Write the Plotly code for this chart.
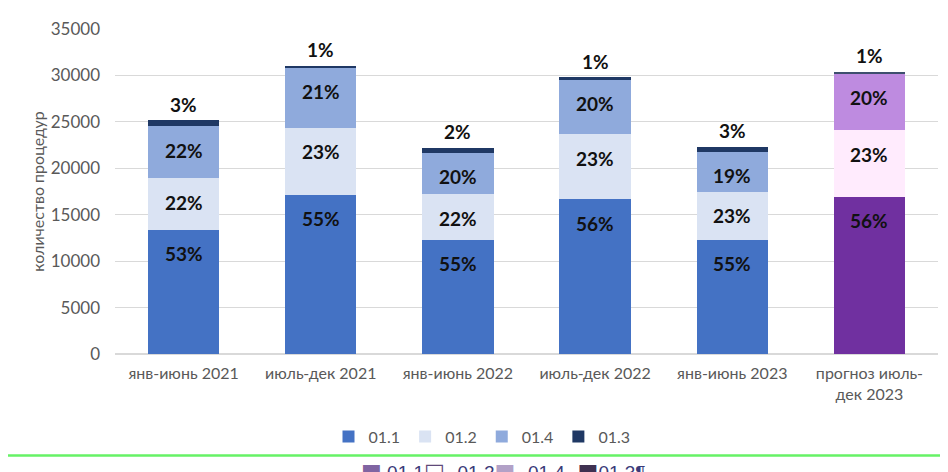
import plotly.graph_objects as go

categories = ["янв-июнь 2021", "июль-дек 2021", "янв-июнь 2022",
              "июль-дек 2022", "янв-июнь 2023", "прогноз июль-<br>дек 2023"]

s011 = [13360, 17140, 12280, 16640, 12320, 16920]
s012 = [5570, 7210, 4930, 7000, 5140, 7150]
s014 = [5600, 6500, 4460, 5970, 4310, 6100]
s013 = [640, 190, 530, 190, 540, 250]

lbl011 = ["53%", "55%", "55%", "56%", "55%", "56%"]
lbl012 = ["22%", "23%", "22%", "23%", "23%", "23%"]
lbl014 = ["22%", "21%", "20%", "20%", "19%", "20%"]
lbl013 = ["3%", "1%", "2%", "1%", "3%", "1%"]

series_names = ["01.1", "01.2", "01.4", "01.3"]
blue_palette = ["#4472C4", "#DAE3F3", "#8FAADC", "#1F3864"]
purple_palette = ["#7030A0", "#FFEBFD", "#BE8BE0", "#3E4F6E"]
forecast_flags = [False, False, False, False, False, True]

FONT = "Lato, Noto Sans, sans-serif"
GRAY = "#595959"

fig = go.Figure()
series = [s011, s012, s014, s013]
for i, (name, vals) in enumerate(zip(series_names, series)):
    colors = [purple_palette[i] if f else blue_palette[i] for f in forecast_flags]
    fig.add_trace(go.Bar(
        x=categories, y=vals, name=name,
        marker=dict(color=colors, line=dict(width=0)),
        hoverinfo="skip",
    ))

# inside labels (near top of each segment)
cum = [0] * len(categories)
for vals, labels in zip([s011, s012, s014], [lbl011, lbl012, lbl014]):
    for j, (v, t) in enumerate(zip(vals, labels)):
        cum[j] += v
        fig.add_annotation(x=categories[j], y=cum[j], text="<b>%s</b>" % t,
                           showarrow=False, yanchor="middle", yshift=-24,
                           font=dict(family=FONT, size=19, color="#111111"))
# top labels above bars
for j, (v, t) in enumerate(zip(s013, lbl013)):
    top = cum[j] + v
    fig.add_annotation(x=categories[j], y=top, text="<b>%s</b>" % t,
                       showarrow=False, yanchor="middle", yshift=16,
                       font=dict(family=FONT, size=19, color="#111111"))

# plot area in figure px: left 107, right 930, top 19, bottom 346
PL, PR, PT, PB = 107, 930, 19, 346
def px(xp):
    return (xp - PL) / (PR - PL)
def py(yp):
    return (PB - yp) / (PB - PT)

# screenshot artefacts: green separator line and clipped second legend
fig.add_shape(type="line", xref="paper", yref="paper",
              x0=px(0), x1=px(942), y0=py(448), y1=py(448),
              line=dict(color="#66F266", width=2.5))
SQ = "<span style='color:%s;font-family:DejaVu Sans;font-size:22px'>%s</span>"
fig.add_annotation(
    xref="paper", yref="paper", x=px(351), y=py(450), xanchor="left", yanchor="top",
    showarrow=False, align="left",
    text=(SQ % ("#8064A2", "■") + " 01.1" +
          SQ % ("#5F497A", "□") + "··01.2" +
          SQ % ("#B2A1C7", "■") + "··01.4··" +
          SQ % ("#3F3151", "■") + "01.3¶"),
    font=dict(family="Liberation Sans, sans-serif", size=19, color="#3B3B7A"),
)

fig.update_layout(
    barmode="stack",
    bargap=0.48,
    width=940, height=464,
    margin=dict(l=PL, r=940 - PR, t=PT, b=464 - PB),
    paper_bgcolor="white", plot_bgcolor="white",
    font=dict(family=FONT, size=14, color=GRAY),
    legend=dict(orientation="h", x=px(474), xanchor="center", y=py(429), yanchor="middle",
                font=dict(family=FONT, size=16, color=GRAY), itemwidth=30,
                traceorder="normal"),
    showlegend=True,
)
fig.update_xaxes(showgrid=False, showline=False, ticks="", ticklabelstandoff=8,
                 tickfont=dict(family=FONT, size=16, color=GRAY))
fig.update_yaxes(range=[0, 35000], dtick=5000, tickformat="d", showgrid=True,
                 gridcolor="#D9D9D9", gridwidth=1, zeroline=True,
                 zerolinecolor="#D9D9D9", showline=False,
                 ticks="", ticklabelstandoff=14,
                 tickfont=dict(family=FONT, size=17, color=GRAY),
                 title=dict(text="количество процедур", standoff=2,
                            font=dict(family=FONT, size=16, color=GRAY)))

fig.write_html("out.html")
